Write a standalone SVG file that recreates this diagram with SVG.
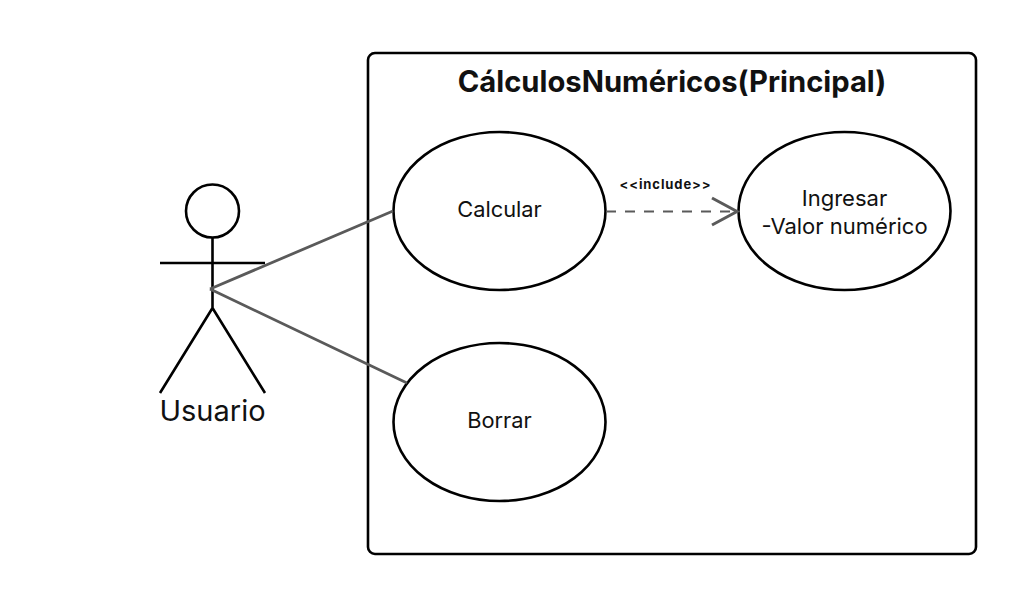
<svg xmlns="http://www.w3.org/2000/svg" width="1029" height="607" viewBox="0 0 1029 607">
<style>
text{font-family:Inter,"Liberation Sans",sans-serif;fill:#111;text-anchor:middle}
.o{fill:#fff;stroke:#000;stroke-width:2.6}
.a{fill:none;stroke:#000;stroke-width:2.6}
.c{fill:none;stroke:#5a5a5a;stroke-width:2.8}
</style>
<rect width="1029" height="607" fill="#fff"/>
<g id="system"><rect class="o" x="368" y="53" width="608" height="501" rx="7"/>
<text x="672" y="92" font-size="29.200" font-weight="700">CálculosNuméricos(Principal)</text></g>
<g id="actor"><circle class="o" cx="212.500" cy="211" r="26.500"/>
<path class="a" d="M212.500 237.500V308M160 263H265M212.500 308L160 393M212.500 308L265 393"/>
<text x="212.500" y="421" font-size="29">Usuario</text></g>
<g id="calcular"><ellipse class="o" cx="499.500" cy="211" rx="106" ry="79"/><text x="499.500" y="217" font-size="21.800">Calcular</text></g>
<g id="ingresar"><ellipse class="o" cx="844.500" cy="211" rx="106" ry="79"/><text x="844.500" y="206" font-size="22">Ingresar</text><text x="844.500" y="234" font-size="22">-Valor numérico</text></g>
<g id="borrar"><ellipse class="o" cx="499.500" cy="422" rx="106" ry="79"/><text x="499.500" y="428" font-size="21.800">Borrar</text></g>
<g id="connectors">
<path class="c" d="M210 289L393 211M210 289L407 383"/>
<path class="c" style="stroke-width:2" d="M606 211.500H737" stroke-dasharray="10 9"/>
<path class="c" style="stroke-width:3" d="M712 198L737 211.500L712 225"/>
<text x="665.500" y="189" font-size="13" font-weight="700" letter-spacing="0.900">&lt;&lt;include&gt;&gt;</text>
</g>
</svg>
